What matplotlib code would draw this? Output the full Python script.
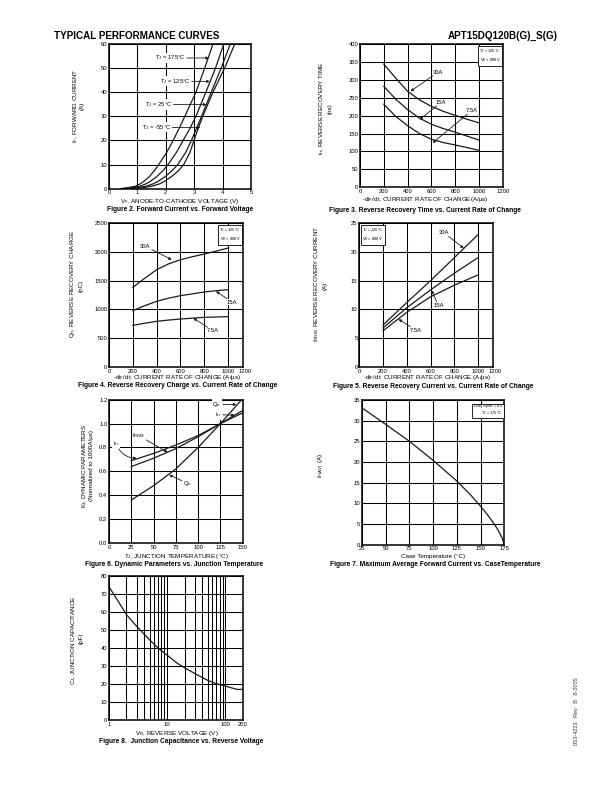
import numpy as np
import matplotlib
matplotlib.use('Agg')
import matplotlib.pyplot as plt
from matplotlib.ticker import FixedLocator, NullFormatter, FixedFormatter
from matplotlib.transforms import ScaledTranslation

plt.rcParams['font.family'] = ['Liberation Sans', 'DejaVu Sans']
plt.rcParams['mathtext.fontset'] = 'custom'
plt.rcParams['mathtext.rm'] = 'Liberation Sans'
plt.rcParams['mathtext.it'] = 'Liberation Sans'
plt.rcParams['mathtext.bf'] = 'Liberation Sans:bold'
plt.rcParams['mathtext.default'] = 'regular'

# ---------------- data ----------------
# Fig 2: forward current vs forward voltage
if_pts = [0, 0.5, 1, 2, 3, 5, 7.5, 10, 15, 20, 25, 30, 40, 50, 60]
vf_175 = [0.40, 0.70, 0.92, 1.10, 1.22, 1.42, 1.60, 1.75, 2.03, 2.26, 2.47, 2.67, 3.06, 3.37, 3.66]
vf_125 = [0.50, 0.85, 1.08, 1.30, 1.45, 1.68, 1.90, 2.08, 2.37, 2.61, 2.85, 3.06, 3.41, 3.75, 4.04]
vf_25 = [0.60, 1.05, 1.30, 1.55, 1.72, 1.98, 2.22, 2.42, 2.70, 2.90, 3.08, 3.26, 3.60, 3.95, 4.27]
vf_m55 = [0.70, 1.25, 1.50, 1.78, 1.95, 2.20, 2.45, 2.63, 2.85, 2.99, 3.14, 3.30, 3.66, 4.07, 4.43]
tj_labels = ['T$_J$ = 175°C', 'T$_J$ = 125°C', 'T$_J$ = 25°C', 'T$_J$ = -55°C']

# Fig 3-5 x values (A/us)
didt = [200, 300, 400, 500, 600, 700, 800, 900, 1000]
trr_30 = [344, 305, 268, 244, 226, 212, 201, 190, 180]
trr_15 = [282, 246, 217, 193, 176, 164, 154, 143, 132]
trr_7 = [232, 198, 172, 150, 134, 125, 118, 111, 103]

qrr_30 = [1383, 1540, 1690, 1790, 1863, 1915, 1962, 2012, 2066]
qrr_15 = [978, 1065, 1140, 1195, 1238, 1270, 1302, 1325, 1343]
qrr_7 = [723, 760, 793, 815, 833, 848, 862, 868, 874]

didt5 = [200, 400, 600, 800, 1000]
irrm_30 = [7.3, 11.2, 15.0, 19.0, 23.0]
irrm_15 = [6.8, 10.3, 13.4, 16.3, 19.0]
irrm_7 = [6.3, 9.5, 12.2, 14.2, 16.0]

# Fig 6
tj6 = [25, 50, 75, 100, 125, 150]
kf_qrr = [0.36, 0.48, 0.62, 0.80, 1.00, 1.21]
kf_trr = [0.69, 0.75, 0.82, 0.90, 1.00, 1.09]
kf_irrm = [0.64, 0.71, 0.79, 0.89, 1.00, 1.11]

# Fig 7
tcase = [25, 50, 75, 100, 125, 140, 150, 155, 160, 165, 168, 171, 173, 175]
if_av = [33.1, 29.1, 25.0, 20.4, 15.4, 11.9, 9.3, 7.9, 6.4, 4.8, 3.7, 2.4, 1.5, 0]

# Fig 8
vr = [1, 1.5, 2, 3, 5, 7, 10, 15, 20, 30, 50, 70, 100, 130, 160, 200]
cj = [74, 65, 58.5, 52, 44.5, 40, 36, 31.5, 29, 25.8, 22, 20.2, 18.9, 17.8, 17, 17]

x_ticks_didt = [0, 200, 400, 600, 800, 1000, 1200]

# ---------------- figure ----------------
W, H = 612, 792
fig = plt.figure(figsize=(6.12, 7.92), dpi=100)

LC = '#1a1a1a'
TICK_FS = 4.2
LAB_FS = 4.5
CAP_FS = 4.8


def rect(x0, y0, x1, y1):
    return [x0 / W, 1 - y1 / H, (x1 - x0) / W, (y1 - y0) / H]


def ft(x, y, s, **kw):
    kw.setdefault('ha', 'center')
    kw.setdefault('va', 'center')
    return fig.text(x / W, 1 - y / H, s, **kw)


def style(ax):
    for sp in ax.spines.values():
        sp.set_linewidth(1.1)
        sp.set_color('black')
    ax.grid(True, which='major', color='black', lw=0.75)
    ax.set_axisbelow(True)
    ax.tick_params(length=0, pad=1.2, labelsize=TICK_FS)


def note(ax, text, xy, xytext, ha='left', rad=0.0, fs=4.2):
    ax.annotate(text, xy=xy, xytext=xytext, ha=ha, va='center', fontsize=fs,
                arrowprops=dict(arrowstyle='-|>', color=LC, lw=0.6, mutation_scale=4,
                                shrinkA=0.5, shrinkB=0,
                                connectionstyle=f'arc3,rad={rad}'),
                bbox=dict(boxstyle='square,pad=0.1', fc='white', ec='none'), zorder=5)


def inset(ax, s, fs=2.9, left=False):
    ax.text(0.02 if left else 0.985, 0.975, s, transform=ax.transAxes,
            ha='left' if left else 'right', va='top', fontsize=fs, linespacing=1.3,
            bbox=dict(boxstyle='square,pad=0.35', fc='white', ec='black', lw=0.6), zorder=6)


def truncated_didt_axis(ax):
    ax.set_xlim(0, 1122)
    ax.set_xticks(x_ticks_didt[:-1] + [1122])
    ax.set_xticklabels([str(v) for v in x_ticks_didt])
    last = ax.get_xticklabels()[-1]
    last.set_transform(last.get_transform() + ScaledTranslation(2.5 / 100, 0, fig.dpi_scale_trans))


# header
ft(54, 36, 'TYPICAL PERFORMANCE CURVES', ha='left', fontsize=7.1, fontweight='bold')
ft(558, 36, 'APT15DQ120B(G)_S(G)', ha='right', fontsize=7.1, fontweight='bold')
ft(577, 711, '053-4223   Rev   B   8-2005', rotation=90, fontsize=4.0, color='#333333')

# ---- Figure 2 ----
ax = fig.add_axes(rect(109, 44, 251, 188.7))
style(ax)
for v in (vf_175, vf_125, vf_25, vf_m55):
    ax.plot(v, if_pts, color=LC, lw=0.9)
ax.set_xlim(0, 5)
ax.set_ylim(0, 60)
ax.set_xticks(range(0, 6))
ax.set_yticks(range(0, 61, 10))
note(ax, tj_labels[0], (3.52, 54.2), (1.62, 54.2))
note(ax, tj_labels[1], (3.55, 44.5), (1.79, 44.5))
note(ax, tj_labels[2], (3.43, 34.9), (1.26, 34.9))
note(ax, tj_labels[3], (3.22, 25.4), (1.15, 25.4))
ft(75.3, 105.5, 'I$_F$, FORWARD CURRENT', rotation=90, fontsize=LAB_FS)
ft(82, 105.5, '(A)', rotation=90, fontsize=LAB_FS)
ft(179.5, 202, 'V$_F$, ANODE-TO-CATHODE VOLTAGE (V)', fontsize=LAB_FS)
ft(180, 209.5, 'Figure 2. Forward Current vs. Forward Voltage', fontsize=CAP_FS, fontweight='bold')

# ---- Figure 3 ----
ax = fig.add_axes(rect(360, 44, 502.7, 187.3))
style(ax)
for t in (trr_30, trr_15, trr_7):
    ax.plot(didt, t, color=LC, lw=0.9)
ax.set_xlim(0, 1200)
ax.set_ylim(0, 400)
ax.set_xticks(x_ticks_didt)
ax.set_yticks(range(0, 401, 50))
note(ax, '30A', (425, 268), (611, 321))
note(ax, '15A', (500, 189), (639, 237))
note(ax, '7.5A', (611, 124), (889, 214))
inset(ax, 'T$_J$ = 125°C\nV$_R$ = 800V')
ft(321.7, 108, 't$_{rr}$, REVERSE RECOVERY TIME', rotation=90, fontsize=LAB_FS)
ft(330, 109, '(ns)', rotation=90, fontsize=LAB_FS)
ft(425, 199.5, '-di$_F$/dt, CURRENT RATE OF CHANGE(A/µs)', fontsize=LAB_FS)
ft(425, 210, 'Figure 3. Reverse Recovery Time vs. Current Rate of Change', fontsize=CAP_FS, fontweight='bold')

# ---- Figure 4 ----
ax = fig.add_axes(rect(109, 223, 242.7, 367))
style(ax)
for q in (qrr_30, qrr_15, qrr_7):
    ax.plot(didt, q, color=LC, lw=0.9)
truncated_didt_axis(ax)
ax.set_ylim(0, 2500)
ax.set_yticks(range(0, 2501, 500))
note(ax, '30A', (526, 1863), (262, 2095))
note(ax, '15A', (898, 1314), (990, 1128))
note(ax, '7.5A', (708, 848), (822, 631))
inset(ax, 'T$_J$ = 125°C\nV$_R$ = 800V')
ft(72.7, 284, 'Q$_{rr}$, REVERSE RECOVERY CHARGE', rotation=90, fontsize=LAB_FS)
ft(80.7, 286, '(nC)', rotation=90, fontsize=LAB_FS)
ft(176.7, 377.5, '-di$_F$/dt, CURRENT RATE OF CHANGE (A/µs)', fontsize=LAB_FS)
ft(178, 385.5, 'Figure 4. Reverse Recovery Charge vs. Current Rate of Change', fontsize=CAP_FS, fontweight='bold')

# ---- Figure 5 ----
ax = fig.add_axes(rect(359.3, 223, 492.7, 367))
style(ax)
for i_ in (irrm_30, irrm_15, irrm_7):
    ax.plot(didt5, i_, color=LC, lw=0.9)
truncated_didt_axis(ax)
ax.set_ylim(0, 25)
ax.set_yticks(range(0, 26, 5))
note(ax, '30A', (878, 20.6), (671, 23.3))
note(ax, '15A', (607, 13.3), (621, 10.7))
note(ax, '7.5A', (330, 8.3), (425, 6.4))
inset(ax, 'T$_J$ = 125°C\nV$_R$ = 800V', left=True)
ft(317, 284, 'I$_{RRM}$, REVERSE RECOVERY CURRENT', rotation=90, fontsize=LAB_FS)
ft(325, 286, '(A)', rotation=90, fontsize=LAB_FS)
ft(426.7, 377.5, '-di$_F$/dt, CURRENT RATE OF CHANGE (A/µs)', fontsize=LAB_FS)
ft(433, 386, 'Figure 5. Reverse Recovery Current vs. Current Rate of Change', fontsize=CAP_FS, fontweight='bold')

# ---- Figure 6 ----
ax = fig.add_axes(rect(109, 399.7, 242.7, 543))
style(ax)
for k in (kf_qrr, kf_trr, kf_irrm):
    ax.plot(tj6, k, color=LC, lw=0.9)
ax.set_xlim(0, 150)
ax.set_ylim(0, 1.2)
ax.set_xticks(range(0, 151, 25))
ax.set_yticks(np.arange(0, 1.21, 0.2))
ax.set_yticklabels([f'{v:.1f}' for v in np.arange(0, 1.21, 0.2)])
note(ax, 'Q$_{rr}$', (143, 1.16), (116, 1.16))
note(ax, 't$_{rr}$', (141, 1.07), (119, 1.075))
note(ax, 't$_{rr}$', (31, 0.71), (4.5, 0.835), rad=0.35)
note(ax, 'I$_{RRM}$', (65.7, 0.76), (26, 0.90))
note(ax, 'Q$_{rr}$', (67.5, 0.57), (83, 0.50))
ft(85, 466, 'K$_f$, DYNAMIC PARAMETERS', rotation=90, fontsize=LAB_FS)
ft(91.7, 466, '(Normalized to 1000A/µs)', rotation=90, fontsize=LAB_FS)
ft(176.7, 556.5, 'T$_J$, JUNCTION TEMPERATURE (°C)', fontsize=LAB_FS)
ft(174, 564.5, 'Figure 6. Dynamic Parameters vs. Junction Temperature', fontsize=CAP_FS, fontweight='bold')

# ---- Figure 7 ----
ax = fig.add_axes(rect(362, 400, 504.3, 544.7))
style(ax)
ax.plot(tcase, if_av, color=LC, lw=0.9)
ax.set_xlim(25, 175)
ax.set_ylim(0, 35)
ax.set_xticks(range(25, 176, 25))
ax.set_yticks(range(0, 36, 5))
inset(ax, 'Duty cycle = 0.5\nT$_J$ = 175°C')
ft(321.7, 465, 'I$_{F(AV)}$ (A)', rotation=90, fontsize=LAB_FS)
ft(433, 556.5, 'Case Temperature (°C)', fontsize=LAB_FS)
ft(435, 564.5, 'Figure 7. Maximum Average Forward Current vs. CaseTemperature', fontsize=CAP_FS, fontweight='bold')

# ---- Figure 8 ----
ax = fig.add_axes(rect(109, 576, 242.7, 720))
style(ax)
ax.plot(vr, cj, color=LC, lw=0.9)
ax.set_xscale('log')
ax.set_xlim(1, 200)
ax.set_ylim(0, 80)
ax.xaxis.set_major_locator(FixedLocator([1, 10, 100, 200]))
ax.xaxis.set_major_formatter(FixedFormatter(['1', '10', '100', '200']))
ax.xaxis.set_minor_locator(FixedLocator([2, 3, 4, 5, 6, 7, 8, 9, 20, 30, 40, 50, 60, 70, 80, 90]))
ax.xaxis.set_minor_formatter(NullFormatter())
ax.grid(True, which='minor', axis='x', color='black', lw=0.75)
ax.tick_params(which='minor', length=0)
ax.set_yticks(range(0, 81, 10))
ft(74, 640, 'C$_J$, JUNCTION CAPACITANCE', rotation=90, fontsize=LAB_FS)
ft(80.7, 638, '(pF)', rotation=90, fontsize=LAB_FS)
ft(176.7, 733.5, 'V$_R$, REVERSE VOLTAGE (V)', fontsize=LAB_FS)
ft(181, 741.5, 'Figure 8.  Junction Capacitance vs. Reverse Voltage', fontsize=CAP_FS, fontweight='bold')

fig.savefig('out.png', dpi=100)
